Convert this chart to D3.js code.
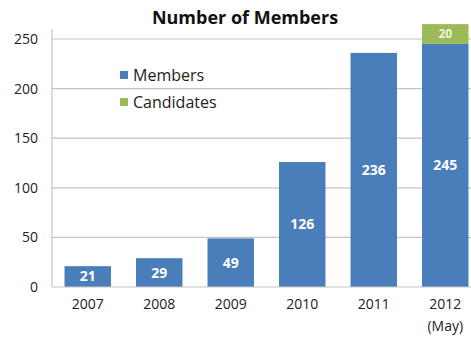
<!DOCTYPE html>
<html>
<head>
<meta charset="utf-8">
<script src="https://cdn.jsdelivr.net/npm/d3@7"></script>
<style>
  body { margin: 0; background: #fff; }
  svg text { font-family: "Open Sans", "Liberation Sans", sans-serif; }
</style>
</head>
<body>
<script>
const w = 471;
const h = 338;

const years = ["2007", "2008", "2009", "2010", "2011", "2012"];
const members = [21, 29, 49, 126, 236, 245];
const candidates = [0, 0, 0, 0, 0, 20];
const yTicks = [0, 50, 100, 150, 200, 250];

const plotLeft = 52, plotRight = 481, plotTop = 39, plotBottom = 287;

const data = years.map((y, i) => ({ year: y, members: members[i], candidates: candidates[i] }));

const svg = d3.select("body")
  .append("svg")
  .attr("width", w)
  .attr("height", h);

const x_scale = d3.scaleBand()
  .domain(years)
  .range([plotLeft, plotRight])
  .paddingInner(0.35)
  .paddingOuter(0.175);

const y_scale = d3.scaleLinear()
  .domain([0, 250])
  .range([plotBottom, plotTop]);

// gridlines
svg.append("g")
  .selectAll("line")
  .data(yTicks.filter(d => d > 0))
  .enter()
  .append("line")
  .attr("x1", plotLeft)
  .attr("x2", w)
  .attr("y1", d => y_scale(d))
  .attr("y2", d => y_scale(d))
  .attr("stroke", "#c4c4c4")
  .attr("stroke-width", 1.2);

// bars
svg.append("g")
  .selectAll("rect")
  .data(data)
  .enter()
  .append("rect")
  .attr("x", d => x_scale(d.year))
  .attr("width", x_scale.bandwidth())
  .attr("y", d => y_scale(d.members))
  .attr("height", d => y_scale(0) - y_scale(d.members))
  .attr("fill", "#4a7ebb");

svg.append("g")
  .selectAll("rect")
  .data(data.filter(d => d.candidates > 0))
  .enter()
  .append("rect")
  .attr("x", d => x_scale(d.year))
  .attr("width", x_scale.bandwidth())
  .attr("y", d => y_scale(d.members + d.candidates))
  .attr("height", d => y_scale(d.members) - y_scale(d.members + d.candidates))
  .attr("fill", "#9bbb59");

// bar labels
svg.append("g")
  .selectAll("text")
  .data(data)
  .enter()
  .append("text")
  .attr("x", d => x_scale(d.year) + x_scale.bandwidth() / 2)
  .attr("y", d => (y_scale(d.members) + y_scale(0)) / 2)
  .attr("dy", "0.35em")
  .attr("text-anchor", "middle")
  .attr("fill", "#fff")
  .attr("font-size", 14)
  .attr("font-weight", "bold")
  .text(d => d.members);

svg.append("g")
  .selectAll("text")
  .data(data.filter(d => d.candidates > 0))
  .enter()
  .append("text")
  .attr("x", d => x_scale(d.year) + x_scale.bandwidth() / 2)
  .attr("y", d => (y_scale(d.members) + y_scale(d.members + d.candidates)) / 2)
  .attr("dy", "0.35em")
  .attr("text-anchor", "middle")
  .attr("fill", "#f4f4dc")
  .attr("font-size", 12)
  .attr("font-weight", "bold")
  .text(d => d.candidates);

// axes
const y_axis = d3.axisLeft(y_scale).tickValues(yTicks).tickSize(0).tickPadding(14);
svg.append("g")
  .attr("class", "y axis")
  .attr("transform", `translate(${plotLeft},0)`)
  .call(y_axis)
  .call(g => g.select(".domain").attr("stroke", "#c4c4c4").attr("stroke-width", 1.2)
    .attr("d", `M0,${plotBottom}V${plotTop - 10}`))
  .call(g => g.selectAll("text").attr("font-size", 14).attr("fill", "#222"));

const x_axis = d3.axisBottom(x_scale).tickSize(0).tickPadding(12);
svg.append("g")
  .attr("class", "x axis")
  .attr("transform", `translate(0,${plotBottom})`)
  .call(x_axis)
  .call(g => g.select(".domain").attr("stroke", "#c4c4c4").attr("stroke-width", 1.2)
    .attr("d", `M${plotLeft},0H${w}`))
  .call(g => g.selectAll("text").attr("font-size", 14).attr("fill", "#222"));

svg.append("text")
  .attr("x", x_scale("2012") + x_scale.bandwidth() / 2)
  .attr("y", 331)
  .attr("text-anchor", "middle")
  .attr("font-size", 14)
  .attr("fill", "#222")
  .text("(May)");

// title
svg.append("text")
  .attr("x", 245)
  .attr("y", 24)
  .attr("text-anchor", "middle")
  .attr("font-size", 18)
  .attr("font-weight", "bold")
  .attr("fill", "#111")
  .text("Number of Members");

// legend
const legend = [
  { name: "Members", color: "#4a7ebb" },
  { name: "Candidates", color: "#9bbb59" }
];
const lg = svg.append("g").selectAll("g")
  .data(legend)
  .enter()
  .append("g")
  .attr("transform", (d, i) => `translate(120,${75 + i * 27})`);
lg.append("rect")
  .attr("x", 0).attr("y", -4)
  .attr("width", 8).attr("height", 8)
  .attr("fill", d => d.color);
lg.append("text")
  .attr("x", 13)
  .attr("dy", "0.35em")
  .attr("font-size", 16)
  .attr("fill", "#222")
  .text(d => d.name);
</script>
</body>
</html>
